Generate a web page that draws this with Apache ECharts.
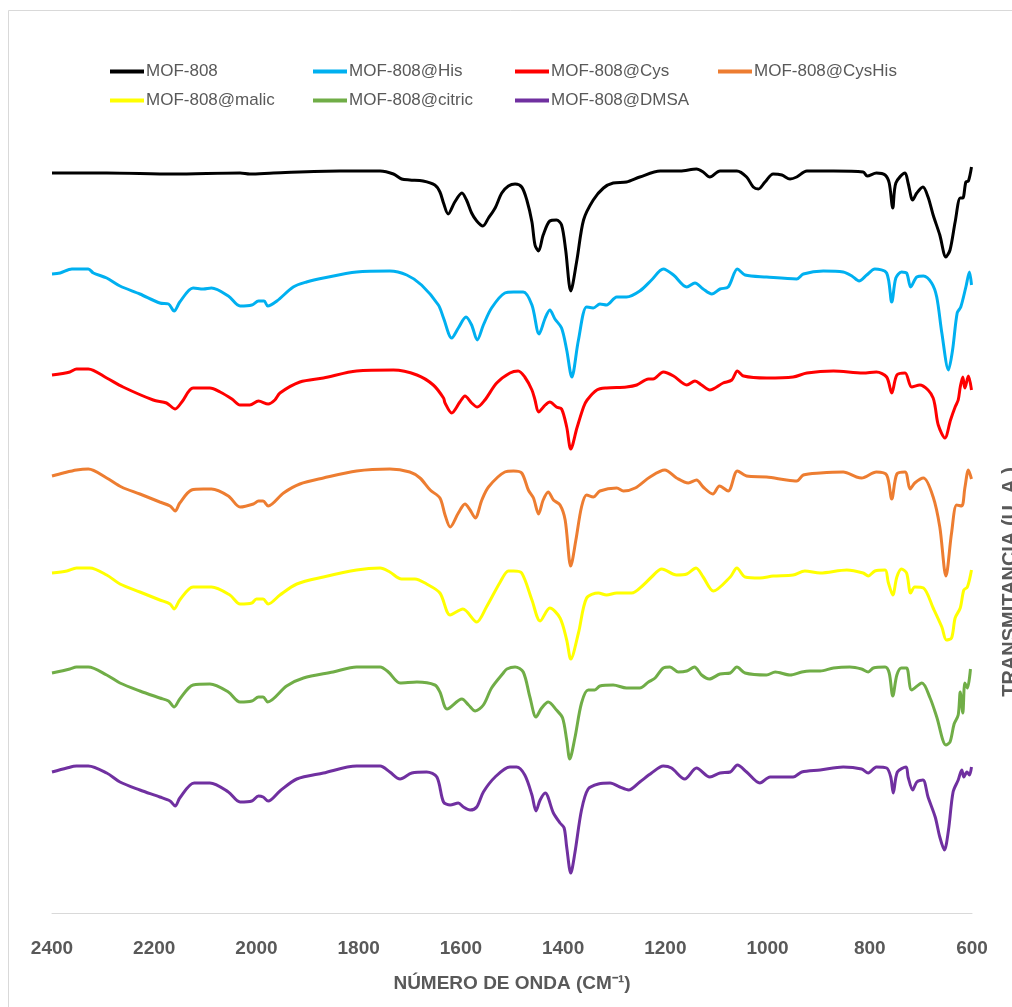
<!DOCTYPE html>
<html>
<head>
<meta charset="utf-8">
<title>FTIR MOF-808</title>
<script src="https://cdn.jsdelivr.net/npm/echarts@6/dist/echarts.min.js"></script>
<style>
  html, body { margin: 0; padding: 0; background: #fff; }
  #chart { width: 1012px; height: 1007px; }
</style>
</head>
<body>
<div id="chart"></div>
<script>
// número de onda (cm-1), transmitancia (u.a., curvas desplazadas)
var mof808 = [[2400,740],[2293,740],[2163,739],[2032,740],[2013,739],[1967,740],[1837,742],[1758,742],[1732,739],[1716,734],[1700,733],[1674,732],[1651,728],[1641,721],[1634,710],[1625,699],[1612,711],[1598,720],[1589,713],[1579,700],[1569,692],[1557,687],[1546,695],[1533,705],[1520,720],[1507,727],[1494,729],[1481,726],[1471,713],[1461,691],[1455,668],[1448,662],[1439,678],[1426,692],[1413,693],[1403,688],[1395,663],[1385,622],[1373,653],[1360,693],[1341,713],[1321,725],[1302,730],[1276,731],[1250,736],[1210,742],[1171,742],[1139,744],[1126,741],[1113,736],[1093,742],[1060,742],[1041,736],[1028,726],[1018,724],[1005,731],[989,739],[972,738],[956,734],[943,736],[923,742],[871,742],[813,741],[805,737],[787,740],[770,738],[762,730],[755,705],[749,730],[731,740],[725,730],[716,713],[708,720],[696,726],[686,716],[676,698],[663,678],[651,656],[643,663],[633,691],[623,715],[618,715],[612,731],[607,732],[601,746]];

var mofHis = [[2400,639],[2384,640],[2361,644],[2329,644],[2319,640],[2293,635],[2267,627],[2228,619],[2189,610],[2172,609],[2161,602],[2150,611],[2124,625],[2104,624],[2088,625],[2055,617],[2032,607],[2009,608],[1996,612],[1985,612],[1978,607],[1960,612],[1928,626],[1902,631],[1869,635],[1804,641],[1739,642],[1706,638],[1677,628],[1644,608],[1634,595],[1618,575],[1605,585],[1590,596],[1579,588],[1568,573],[1556,588],[1540,605],[1514,620],[1497,621],[1478,621],[1461,608],[1447,579],[1435,595],[1426,603],[1416,594],[1403,585],[1393,563],[1383,536],[1370,573],[1354,606],[1341,605],[1328,609],[1315,608],[1295,616],[1276,616],[1250,622],[1227,633],[1204,644],[1184,638],[1158,626],[1142,630],[1126,624],[1109,619],[1093,624],[1077,626],[1059,644],[1044,638],[1002,636],[943,634],[930,639],[891,642],[852,641],[835,637],[821,632],[806,638],[790,644],[767,640],[757,611],[749,635],[738,641],[728,640],[720,626],[708,636],[695,637],[679,630],[669,616],[659,580],[646,543],[638,563],[629,600],[622,606],[612,626],[605,641],[601,628]];

var mofCys = [[2400,538],[2365,541],[2352,544],[2329,544],[2293,535],[2261,526],[2202,513],[2176,510],[2159,504],[2146,511],[2124,525],[2091,525],[2071,521],[2048,514],[2032,508],[2013,508],[1996,512],[1977,509],[1964,513],[1954,520],[1915,531],[1869,535],[1804,542],[1732,543],[1686,538],[1654,528],[1634,515],[1631,510],[1618,500],[1602,511],[1592,517],[1579,510],[1568,506],[1553,513],[1530,530],[1504,540],[1488,542],[1475,536],[1461,523],[1455,513],[1448,501],[1435,508],[1426,511],[1413,506],[1403,504],[1393,486],[1385,464],[1373,485],[1360,506],[1353,513],[1334,523],[1315,525],[1276,526],[1256,528],[1233,534],[1224,534],[1204,541],[1184,537],[1158,528],[1142,532],[1129,528],[1113,523],[1087,530],[1070,533],[1059,542],[1047,537],[1002,535],[950,536],[923,540],[871,542],[813,540],[787,541],[767,536],[757,520],[747,538],[731,540],[718,526],[702,528],[686,523],[676,515],[672,506],[666,488],[653,475],[642,493],[633,506],[627,513],[623,526],[618,536],[614,525],[607,537],[601,523]];

var mofCysHis = [[2400,437],[2378,440],[2352,443],[2329,444],[2293,435],[2264,426],[2228,419],[2189,411],[2169,407],[2159,402],[2150,410],[2127,423],[2104,424],[2088,424],[2055,417],[2032,406],[2006,409],[1996,412],[1987,412],[1977,407],[1947,420],[1915,429],[1869,435],[1804,442],[1739,444],[1700,441],[1680,435],[1660,423],[1641,415],[1631,398],[1621,386],[1605,400],[1592,409],[1582,403],[1572,395],[1559,413],[1546,426],[1514,441],[1497,442],[1481,440],[1468,423],[1458,415],[1448,399],[1439,413],[1429,421],[1419,413],[1406,408],[1396,393],[1385,347],[1375,373],[1364,406],[1354,418],[1341,416],[1328,422],[1295,425],[1282,422],[1259,425],[1230,436],[1201,443],[1178,435],[1155,430],[1139,433],[1126,426],[1107,419],[1094,427],[1077,422],[1059,442],[1041,437],[1002,436],[963,433],[943,432],[930,438],[897,440],[852,441],[826,436],[816,435],[787,441],[767,438],[757,414],[747,439],[731,441],[721,424],[712,430],[695,435],[676,416],[663,386],[651,337],[640,380],[630,408],[620,407],[614,425],[607,443],[601,434]];

var mofMalic = [[2400,340],[2371,342],[2352,345],[2326,345],[2293,338],[2267,329],[2228,321],[2189,313],[2169,309],[2161,304],[2150,313],[2124,326],[2088,326],[2052,318],[2032,309],[2009,310],[2000,314],[1987,314],[1977,309],[1954,318],[1921,329],[1869,336],[1804,343],[1758,345],[1739,341],[1716,334],[1690,334],[1667,329],[1641,320],[1621,298],[1596,304],[1569,291],[1550,306],[1523,331],[1507,342],[1497,342],[1481,340],[1461,313],[1445,292],[1426,305],[1406,295],[1393,273],[1385,254],[1370,280],[1354,315],[1331,320],[1315,318],[1295,320],[1266,320],[1243,328],[1227,336],[1207,344],[1178,338],[1158,339],[1140,345],[1126,336],[1106,322],[1073,336],[1060,345],[1044,336],[1015,335],[989,337],[950,338],[927,342],[897,340],[845,343],[813,340],[803,337],[790,342],[770,343],[764,331],[755,318],[747,336],[738,344],[728,340],[720,320],[712,326],[695,325],[676,305],[659,286],[650,273],[640,275],[633,295],[623,305],[616,323],[609,326],[601,343]];

var mofCitric = [[2400,240],[2365,244],[2352,246],[2329,246],[2293,238],[2267,230],[2228,222],[2189,215],[2172,212],[2161,206],[2150,214],[2124,228],[2091,229],[2055,221],[2032,211],[2009,212],[1996,216],[1987,216],[1978,211],[1941,227],[1908,235],[1850,241],[1804,246],[1758,246],[1742,241],[1719,230],[1686,231],[1651,228],[1641,221],[1627,204],[1598,214],[1585,208],[1572,202],[1556,208],[1540,225],[1517,240],[1510,244],[1494,246],[1478,241],[1465,216],[1453,196],[1442,205],[1429,211],[1413,203],[1401,195],[1393,173],[1387,154],[1377,175],[1364,210],[1351,223],[1338,223],[1328,227],[1302,228],[1276,225],[1250,225],[1233,231],[1220,235],[1204,245],[1191,246],[1175,241],[1158,242],[1143,246],[1129,238],[1114,234],[1093,239],[1073,240],[1060,246],[1044,240],[1002,238],[985,241],[956,238],[933,241],[917,242],[897,242],[871,245],[839,246],[816,244],[803,241],[793,245],[770,246],[762,240],[755,217],[747,238],[738,245],[728,245],[718,223],[698,230],[682,215],[669,196],[651,168],[643,171],[635,189],[627,198],[623,221],[618,200],[614,230],[609,225],[603,244]];

var mofDmsa = [[2400,141],[2371,145],[2352,147],[2329,147],[2293,140],[2267,131],[2228,123],[2189,116],[2169,112],[2159,107],[2150,115],[2122,130],[2091,130],[2055,121],[2032,111],[2009,112],[1996,117],[1987,116],[1977,112],[1954,122],[1921,134],[1869,140],[1804,147],[1758,147],[1739,141],[1719,134],[1696,140],[1667,141],[1647,136],[1634,111],[1621,108],[1605,110],[1595,106],[1582,103],[1569,106],[1556,121],[1533,136],[1504,146],[1491,146],[1475,138],[1461,118],[1453,102],[1445,113],[1435,120],[1419,100],[1406,90],[1398,85],[1393,66],[1385,40],[1377,60],[1364,103],[1351,124],[1331,129],[1308,130],[1289,126],[1272,123],[1250,131],[1227,140],[1204,147],[1188,145],[1162,134],[1139,145],[1113,136],[1093,140],[1073,141],[1059,148],[1041,141],[1015,130],[995,136],[963,136],[950,136],[933,141],[897,143],[852,146],[816,144],[803,140],[787,146],[767,145],[759,136],[754,120],[746,141],[729,146],[725,136],[716,123],[708,131],[696,133],[686,116],[672,96],[663,76],[654,63],[646,83],[637,121],[627,133],[620,143],[616,136],[610,141],[605,138],[601,146]];

var names = ['MOF-808', 'MOF-808@His', 'MOF-808@Cys', 'MOF-808@CysHis', 'MOF-808@malic', 'MOF-808@citric', 'MOF-808@DMSA'];
var colors = ['#000000', '#00b0f0', '#ff0000', '#ed7d31', '#ffff00', '#70ad47', '#7030a0'];
var curves = [mof808, mofHis, mofCys, mofCysHis, mofMalic, mofCitric, mofDmsa];
var xTicks = { min: 600, max: 2400, step: 200 };

var FONT = '"Liberation Sans", Arial, sans-serif';
var myChart = echarts.init(document.getElementById('chart'));

// legend laid out in two rows, four columns (like the excel one)
var legendLeft = [105, 308, 510, 713, 105, 308, 510];
var legendTop = [58, 58, 58, 58, 87, 87, 87];
var legends = names.map(function (n, i) {
  return {
    orient: 'horizontal',
    left: legendLeft[i],
    top: legendTop[i],
    itemWidth: 34,
    itemHeight: 4,
    itemGap: 0,
    icon: 'rect',
    selectedMode: false,
    data: [n],
    textStyle: { fontFamily: FONT, fontSize: 17, color: '#595959', padding: [0, 0, 0, -3] }
  };
});

var option = {
  backgroundColor: '#ffffff',
  animation: false,
  color: colors,
  legend: legends,
  grid: { left: 52, right: 40, top: 113, bottom: 94, containLabel: false },
  xAxis: {
    type: 'value',
    inverse: true,
    min: xTicks.min,
    max: xTicks.max,
    interval: xTicks.step,
    name: 'NÚMERO DE ONDA (CM⁻¹)',
    nameLocation: 'middle',
    nameGap: 61,
    nameTextStyle: { fontFamily: FONT, fontSize: 19, fontWeight: 'bold', color: '#595959' },
    axisLine: { show: true, lineStyle: { color: '#d9d9d9', width: 1 } },
    axisTick: { show: false },
    splitLine: { show: false },
    axisLabel: {
      margin: 26,
      fontFamily: FONT,
      fontSize: 19,
      fontWeight: 'bold',
      color: '#595959',
      formatter: function (v) { return String(v); }
    }
  },
  yAxis: {
    type: 'value',
    min: 0,
    max: 800,
    show: false
  },
  graphic: [
    {
      type: 'rect',
      shape: { x: 8.5, y: 10.5, width: 1200, height: 1200 },
      style: { fill: 'none', stroke: '#d9d9d9', lineWidth: 1 },
      silent: true
    },
    {
      type: 'text',
      x: 1000,
      y: 582,
      rotation: Math.PI / 2,
      style: {
        text: 'TRANSMITANCIA (U. A.)',
        font: 'bold 20px ' + FONT,
        fill: '#595959',
        textAlign: 'center',
        textVerticalAlign: 'top'
      },
      silent: true
    }
  ],
  series: names.map(function (n, i) {
    return {
      name: n,
      type: 'line',
      data: curves[i],
      showSymbol: false,
      smooth: 0.3,
      lineStyle: { width: 3, color: colors[i] },
      itemStyle: { color: colors[i] }
    };
  })
};

myChart.setOption(option);
</script>
</body>
</html>
